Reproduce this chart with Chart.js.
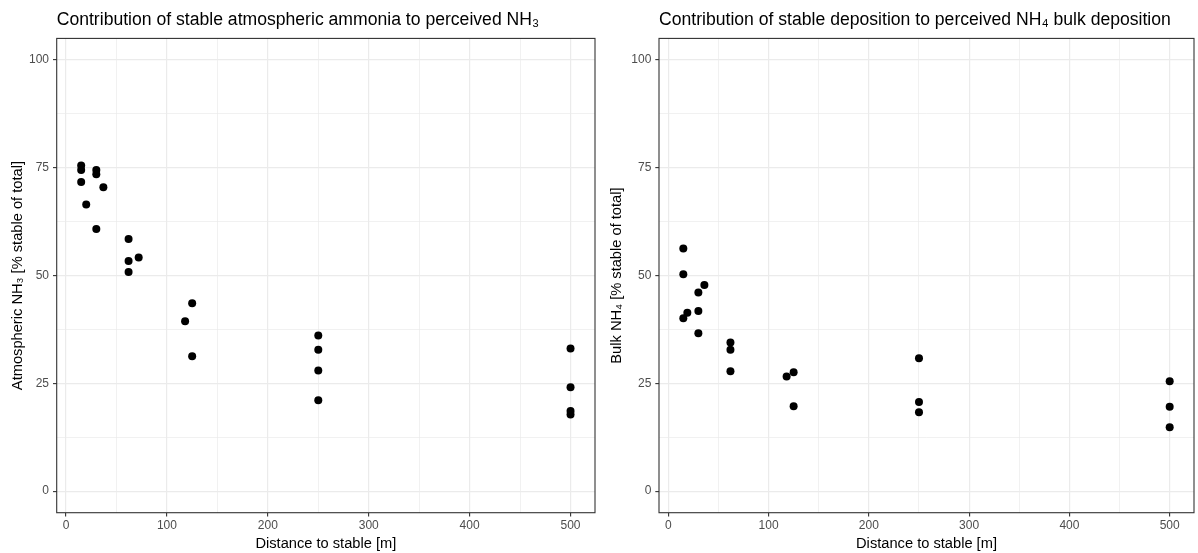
<!DOCTYPE html>
<html><head><meta charset="utf-8">
<script src="https://cdn.jsdelivr.net/npm/chart.js@4.4.1/dist/chart.umd.min.js"></script>
<style>
html,body{margin:0;padding:0;background:#fff;}
#wrap{position:relative;width:1198px;height:553px;overflow:hidden;}
canvas{position:absolute;top:0;}
</style></head><body>
<div id="wrap">
<canvas id="c1" width="599" height="553" style="left:0"></canvas>
<canvas id="c2" width="599" height="553" style="left:599px"></canvas>
</div>
<script>
// ---- data ----
const nh3Distance = [15,15,15,20,30,30,37,30,62,62,62,72,125,118,125,250,250,250,250,500,500,500,500];
const nh3Share    = [75.5,74.5,71.7,66.5,74.5,73.5,70.5,60.8,58.5,53.4,50.8,54.2,43.6,39.4,31.3,36.1,32.8,28.0,21.1,33.1,24.1,18.6,17.8];
const nh4Distance = [15,15,15,19,30,30,30,36,62,62,62,118,125,125,250,250,250,500,500,500];
const nh4Share    = [56.3,50.3,40.1,41.4,46.1,41.8,36.6,47.8,34.5,32.8,27.8,26.6,27.6,19.7,30.8,20.7,18.3,25.5,19.6,14.8];

const xGridValues = [0,50,100,150,200,250,300,350,400,450,500];
const xTickLabels = [0,100,200,300,400,500];
const yGridValues = [0,12.5,25,37.5,50,62.5,75,87.5,100];
const yTickLabels = [0,25,50,75,100];

const titles = [
  'Contribution of stable atmospheric ammonia to perceived NH\u2083',
  'Contribution of stable deposition to perceived NH\u2084 bulk deposition'
];
const yTitles = ['Atmospheric NH\u2083 [% stable of total]', 'Bulk NH\u2084 [% stable of total]'];
const xTitle = 'Distance to stable [m]';

const FONT = '"Liberation Sans", Arial, "DejaVu Sans", sans-serif';

const panelBorder = {
  id: 'panelBorder',
  afterDraw(chart) {
    const a = chart.chartArea, c = chart.ctx;
    c.save();
    c.strokeStyle = '#333333';
    c.lineWidth = 1.1;
    c.strokeRect(a.left, a.top, a.right - a.left, a.bottom - a.top);
    c.restore();
  }
};

function makeChart(id, title, yTitle, xs, ys, yWidth, padRight) {
  const pts = xs.map((x, i) => ({x: x, y: ys[i]}));
  const isMajorX = v => xTickLabels.includes(v);
  const isMajorY = v => yTickLabels.includes(v);
  return new Chart(document.getElementById(id), {
    type: 'scatter',
    data: { datasets: [{ data: pts, backgroundColor: '#000', borderWidth: 0, pointRadius: 4, pointHoverRadius: 4 }] },
    plugins: [panelBorder],
    options: {
      responsive: false, animation: false,
      layout: { padding: { left: 0, right: padRight, top: 0, bottom: 0 } },
      plugins: {
        legend: { display: false }, tooltip: { enabled: false },
        title: {
          display: true, text: title, align: 'start', fullSize: false,
          color: '#000', font: { family: FONT, size: 17.6, weight: 'normal', lineHeight: 1.2 },
          padding: { top: 10, bottom: 7.3 }
        }
      },
      scales: {
        x: {
          type: 'linear', min: -9.25, max: 524.25,
          afterBuildTicks: s => { s.ticks = xGridValues.map(v => ({value: v})); },
          afterFit: s => { s.height = 40.3; },
          ticks: { autoSkip: false, maxRotation: 0, padding: 2, color: '#4d4d4d',
                   font: { family: FONT, size: 12 },
                   callback: v => isMajorX(v) ? String(v) : '' },
          grid: { color: '#ebebeb', drawTicks: true, tickLength: 3.7,
                  lineWidth: c => (c.tick && isMajorX(c.tick.value)) ? 1.2 : 0.7,
                  tickColor: c => (c.tick && isMajorX(c.tick.value)) ? '#333' : 'rgba(0,0,0,0)',
                  tickWidth: 1.1 },
          border: { display: false },
          title: { display: true, text: xTitle, color: '#000', font: { family: FONT, size: 14.67 }, padding: { top: 0, bottom: 0 } }
        },
        y: {
          type: 'linear', min: -5, max: 105,
          afterBuildTicks: s => { s.ticks = yGridValues.map(v => ({value: v})); },
          afterFit: s => { s.width = yWidth; },
          ticks: { autoSkip: false, padding: 4, color: '#4d4d4d',
                   font: { family: FONT, size: 12 },
                   callback: v => isMajorY(v) ? String(v) : '' },
          grid: { color: '#ebebeb', drawTicks: true, tickLength: 3.7,
                  lineWidth: c => (c.tick && isMajorY(c.tick.value)) ? 1.2 : 0.7,
                  tickColor: c => (c.tick && isMajorY(c.tick.value)) ? '#333' : 'rgba(0,0,0,0)',
                  tickWidth: 1.1 },
          border: { display: false },
          title: { display: true, text: yTitle, color: '#000', font: { family: FONT, size: 14.67 }, padding: { top: 9, bottom: 0 } }
        }
      }
    }
  });
}

makeChart('c1', titles[0], yTitles[0], nh3Distance, nh3Share, 56.7, 3.5);
makeChart('c2', titles[1], yTitles[1], nh4Distance, nh4Share, 60, 0.7);
</script>
</body></html>
